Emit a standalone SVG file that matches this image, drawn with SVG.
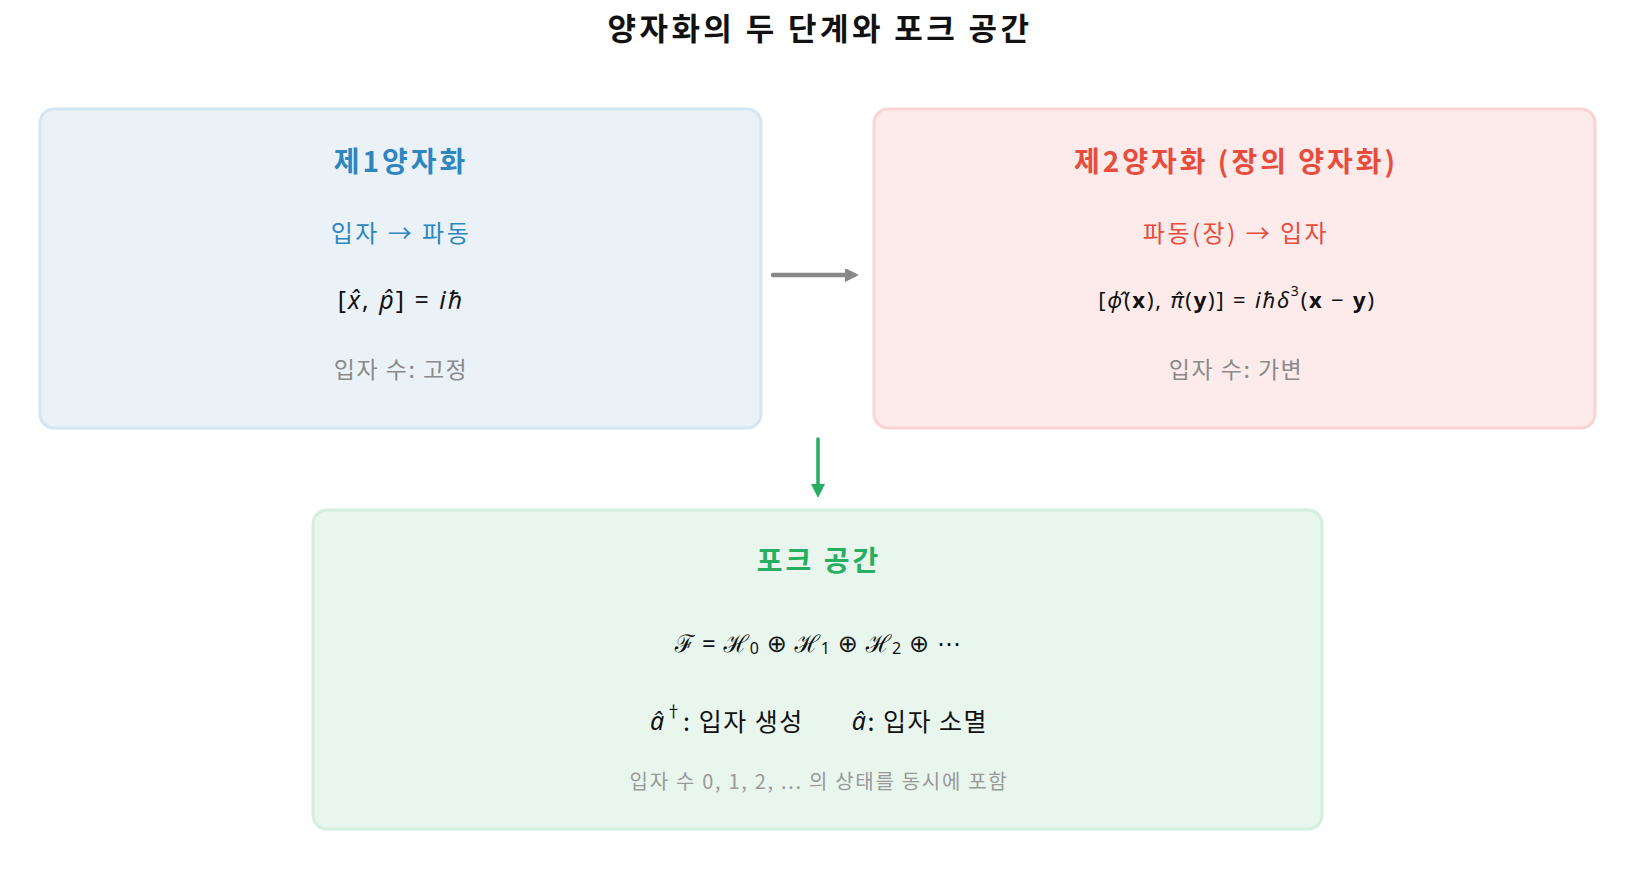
<svg xmlns="http://www.w3.org/2000/svg" width="1635" height="884" viewBox="0 0 1635 884">
<style>
text{font-family:"Noto Sans CJK KR","Noto Sans",sans-serif;text-anchor:middle;dominant-baseline:central}
.title{font-size:31px;font-weight:bold;fill:#111;letter-spacing:3.4px}
.h{font-size:28px;font-weight:bold;letter-spacing:3px}
.sub{font-size:24px;letter-spacing:2.5px}
.math{font-family:"Noto Sans","DejaVu Sans",sans-serif;fill:#111}
.gray{font-size:23px;fill:#8a8a8a;letter-spacing:1.5px}
.foot{font-size:20px;fill:#999;letter-spacing:1.7px}
.b{font-weight:bold;font-style:normal}
.i{font-style:italic}
</style>
<defs>
<marker id="ag" markerWidth="14" markerHeight="14" refX="1" refY="6.5" orient="auto" markerUnits="userSpaceOnUse"><path d="M0,0 L13,6.5 L0,13 z" fill="#888" stroke="#888" stroke-width="1" stroke-linejoin="round"/></marker>
<marker id="agr" markerWidth="14" markerHeight="14" refX="1" refY="6.5" orient="auto" markerUnits="userSpaceOnUse"><path d="M0,0 L13,6.5 L0,13 z" fill="#27ae60" stroke="#27ae60" stroke-width="1" stroke-linejoin="round"/></marker>
</defs>
<rect width="1635" height="884" fill="#fff"/>
<text class="title" x="820" y="26">양자화의 두 단계와 포크 공간</text>

<g id="connectors">
<line x1="773" y1="275" x2="846" y2="275" stroke="#888" stroke-width="4.5" stroke-linecap="round" marker-end="url(#ag)"/>
<line x1="818" y1="439" x2="818" y2="485" stroke="#27ae60" stroke-width="3.5" stroke-linecap="round" marker-end="url(#agr)"/>
</g>

<g id="first">
<rect x="40" y="109" width="721" height="319" rx="14" fill="#eaf2f8" stroke="#d4e6f1" stroke-width="3"/>
<text class="h" x="401" y="160" fill="#2e86c1">제1양자화</text>
<text class="sub" x="401" y="231" fill="#2e86c1">입자 → 파동</text>
<text class="math" x="401" y="299" font-size="25" letter-spacing="2">[<tspan class="i">x̂</tspan>, <tspan class="i">p̂</tspan>] = <tspan class="i">iℏ</tspan></text>
<text class="gray" x="401" y="368">입자 수: 고정</text>
</g>

<g id="second">
<rect x="874" y="109" width="721" height="319" rx="14" fill="#fdebeb" stroke="#fad4d4" stroke-width="3"/>
<text class="h" x="1236" y="160" fill="#e74c3c">제2양자화 (장의 양자화)</text>
<text class="sub" x="1236" y="231" fill="#e74c3c">파동(장) → 입자</text>
<text class="math" x="1237" y="299" font-size="22" letter-spacing="1.8">[<tspan class="i">ϕ̂</tspan>(<tspan class="b">x</tspan>), <tspan class="i">π̂</tspan>(<tspan class="b">y</tspan>)] = <tspan class="i">iℏδ</tspan><tspan font-size="14" dy="-9">3</tspan><tspan dy="9">(</tspan><tspan class="b">x</tspan> − <tspan class="b">y</tspan>)</text>
<text class="gray" x="1236" y="368">입자 수: 가변</text>
</g>

<g id="fock">
<rect x="313" y="510" width="1009" height="319" rx="14" fill="#e8f6ee" stroke="#d3f0df" stroke-width="3"/>
<text class="h" x="819" y="559" fill="#27ae60">포크 공간</text>
<text class="math" x="818" y="642" font-size="24" letter-spacing="0.8"><tspan class="i">ℱ</tspan> = <tspan class="i">ℋ</tspan><tspan font-size="16" dy="6">0</tspan><tspan dy="-6"> ⊕ </tspan><tspan class="i">ℋ</tspan><tspan font-size="16" dy="6">1</tspan><tspan dy="-6"> ⊕ </tspan><tspan class="i">ℋ</tspan><tspan font-size="16" dy="6">2</tspan><tspan dy="-6"> ⊕ ⋯</tspan></text>
<text x="819" y="720" font-size="25" letter-spacing="1.5" fill="#111"><tspan class="i" font-family="Noto Sans">â</tspan><tspan font-size="16" dy="-10">†</tspan><tspan dy="10">: 입자 생성</tspan><tspan dx="48" class="i" font-family="Noto Sans">â</tspan>: 입자 소멸</text>
<text class="foot" x="819" y="780">입자 수 0, 1, 2, ... 의 상태를 동시에 포함</text>
</g>
</svg>
